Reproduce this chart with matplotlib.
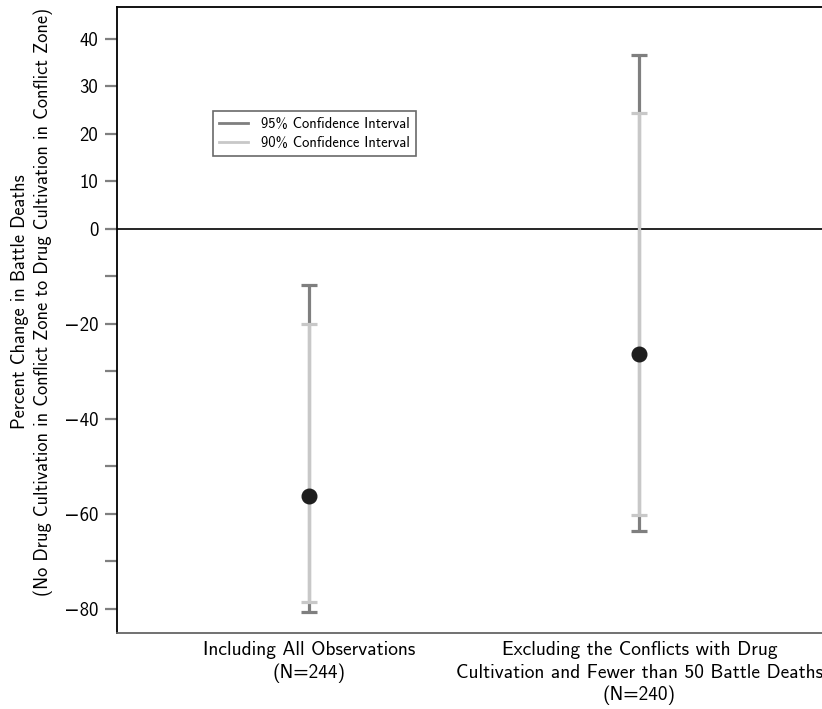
import numpy as np
import matplotlib
matplotlib.use("Agg")
import matplotlib.pyplot as plt
from matplotlib.lines import Line2D

plt.rcParams['font.family'] = ['cmss10', 'DejaVu Sans']
plt.rcParams['axes.unicode_minus'] = True

# data
groups = ["Including All Observations\n(N=244)",
          "Excluding the Conflicts with Drug\nCultivation and Fewer than 50 Battle Deaths\n(N=240)"]
estimate = [-56.2, -26.3]
ci95_low = [-80.6, -63.6]
ci95_high = [-11.8, 36.6]
ci90_low = [-78.5, -60.2]
ci90_high = [-20.0, 24.4]

dark = "#7f7f7f"
light = "#c8c8c8"

fig = plt.figure(figsize=(8.22, 7.09), dpi=100)
ax = fig.add_axes([0.1423, 0.1072, 0.88, 0.8830])

x = np.arange(1, len(groups) + 1)
est = np.array(estimate)

ax.axhline(0, color="black", lw=1.2, zorder=1)

ax.errorbar(x, est, yerr=[est - np.array(ci95_low), np.array(ci95_high) - est],
            fmt="none", ecolor=dark, elinewidth=2.3, capsize=5.5, capthick=2.3, zorder=2)
ax.errorbar(x, est, yerr=[est - np.array(ci90_low), np.array(ci90_high) - est],
            fmt="none", ecolor=light, elinewidth=2.3, capsize=5.5, capthick=2.3, zorder=3)
ax.plot(x, est, "o", color="#1e1e1e", ms=10.5, zorder=4)

ax.set_xlim(0.418, 2.609)
ax.set_ylim(-85.1, 46.7)

yt = np.arange(-80, 41, 10)
ax.set_yticks(yt)
ax.set_yticklabels([("\u2212%d" % -v if v < 0 else "%d" % v) if (v >= 0 or v % 20 == 0) else "" for v in yt])
ax.tick_params(axis="y", length=8.5, width=1.6, color=dark, labelsize=13.5, pad=5)

ax.set_xticks(x)
ax.set_xticklabels(groups, fontsize=14, linespacing=1.3)
ax.tick_params(axis="x", length=0, pad=6)

ax.spines["right"].set_visible(False)
ax.spines["left"].set_color("black")
ax.spines["top"].set_color("black")
ax.spines["bottom"].set_color("#666666")
for s in ax.spines.values():
    s.set_linewidth(1.3)

ax.set_ylabel("Percent Change in Battle Deaths\n(No Drug Cultivation in Conflict Zone to Drug Cultivation in Conflict Zone)",
              fontsize=13.2, linespacing=1.35)
ax.yaxis.set_label_coords(-0.088, 0.529)

handles = [Line2D([], [], color=dark, lw=2), Line2D([], [], color=light, lw=2)]
leg = ax.legend(handles, ["95% Confidence Interval", "90% Confidence Interval"],
                loc="upper left", bbox_to_anchor=(0.133, 0.834), fontsize=10.5,
                frameon=True, fancybox=False, handlelength=2.0, handletextpad=0.9,
                borderpad=0.4, labelspacing=0.35, borderaxespad=0)
leg.get_frame().set_edgecolor("#444444")
leg.get_frame().set_linewidth(1.2)

fig.savefig("out.png", dpi=100)
